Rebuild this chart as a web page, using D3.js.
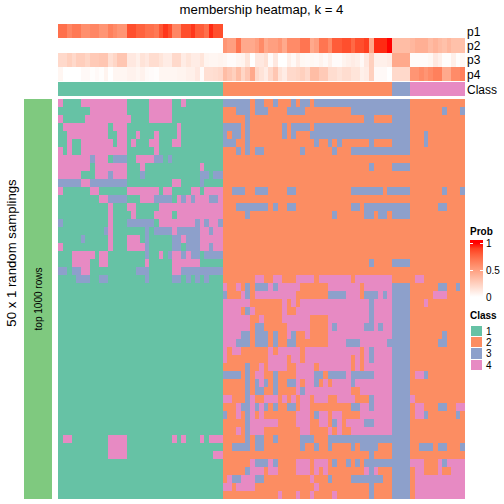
<!DOCTYPE html>
<html><head><meta charset="utf-8">
<style>html,body{margin:0;padding:0;background:#fff}svg{display:block}text{font-family:"Liberation Sans",Arial,sans-serif;fill:#000}</style>
<script src="https://cdn.jsdelivr.net/npm/d3@7"></script></head><body><div id="c"></div>
<script>
const title = "membership heatmap, k = 4";
const annNames = ["p1","p2","p3","p4"];
const classLabels = ["1","2","3","4"];
const classColors = ["#66C2A5","#FC8D62","#8DA0CB","#E78AC3"];
const classSizes = [36,37,4,12];
const probTicks = [0,0.5,1];

const p1 = [.72,.72,.62,.68,.68,.58,.58,.62,.62,.55,.55,.65,.6,.55,.55,.85,.85,.78,.78,.72,.72,.68,.82,.92,.85,.62,.62,.85,.85,.92,.8,.8,.72,.95,.85,.85,
 0,0,0,0,0,0,0,0,0,0,0,0,0,0,0,0,0,0,0,0,0,0,0,0,0,0,0,0,0,0,0,0,0,0,0,0,0,0,0,0,0,0,0,0,0,0,0,0,0,0,0,0,0];
const p2 = [0,0,0,0,0,0,0,0,0,0,0,0,0,0,0,0,0,0,0,0,0,0,0,0,0,0,0,0,0,0,0,0,0,0,0,0,
 .55,.5,.5,.7,.45,.45,.45,.5,.6,.45,.5,.5,.55,.45,.6,.6,.6,.7,.7,.45,.5,.7,.7,.6,.8,.8,.85,.85,.75,.85,.85,.9,.45,.95,.95,.95,1,
 .35,.35,.35,.35,.38,.42,.42,.42,.36,.4,.36,.33,.38,.33,.33,.33];
const p3 = [.2,.2,.25,.2,.26,.26,.22,.28,.28,.3,.3,.17,.22,.3,.3,.12,.12,.08,.15,.12,.18,.18,.14,.1,.1,.2,.2,.1,.14,.1,.1,.14,.06,.05,.05,.06,
 .05,.02,.02,.05,.06,.14,0,.12,.12,.16,.02,.12,0,0,.08,.03,.1,.04,.03,.04,.03,.06,.03,.08,.02,.02,.06,.08,.1,.08,.03,.12,.25,.08,.08,.08,.1,
 .45,.45,.45,.45,.02,.02,.02,.02,.04,.12,.08,.01,.01,.08,.01,.04];
const p4 = [.05,0,0,0,0,.03,.03,.01,.03,.01,.06,0,.05,.05,.05,.07,.07,.05,.07,.03,.02,.01,.05,.05,.05,.05,.06,.06,.08,.08,.12,.02,.17,.17,.18,.2,
 .35,.3,.25,.35,.22,.3,.45,.2,.15,.1,.2,.3,.15,.1,.2,.2,.22,.25,.2,.35,.35,.28,.28,.18,.18,.15,.18,.18,.14,.14,.08,.1,.25,.03,.03,.03,0,
 .2,.2,.2,.2,.55,.55,.6,.55,.6,.65,.65,.45,.45,.6,.6,.65];

// Each row: runs that differ from the column's base value (1 left of col 36, 2 from col 36 on). "value:from-to"
const rows = [
"4:0 4:5-14 4:20-24 4:27 3:36-41 3:43-44 3:47 3:51 3:53-54 3:56-76",
"4:7-14 4:20-24 3:39-41 3:43-45 3:50-53 3:64-76 3:84 3:88",
"4:0 4:6-15 4:20-24 3:41 3:67-68 3:73-76",
"4:1-10 4:12-14 4:26 3:36-39 3:41 3:49 3:51-54 3:56-76",
"4:2-10 4:13-14 4:17 4:21 4:26 3:36 3:38-39 3:41 3:49 3:51 3:55-76 3:80",
"4:2 4:5-11 4:13-14 4:16 4:20-21 4:25-26 3:36-38 3:41 3:56 3:59 3:61 3:68 3:73-76 3:80",
"4:0 4:2 4:5-14 4:21 3:39 3:41 3:43-44 3:53 3:60 3:64-76",
"4:0-6 3:7 4:8-10 3:12-14 4:17-20 3:21-22 3:24",
"4:0-6 4:8-14 4:18 4:31 3:68 3:73-76",
"4:0-4 4:8-10 3:11 4:12-14 3:18 3:31-32 3:34-35",
"3:0-4 4:5-6 3:7-14 4:25-26 3:31",
"4:0 4:7-8 4:15-21 4:23-24 4:29-30 4:32-35 3:38-40 3:43-45 3:50-51 3:64-70 3:72-76 3:84 3:88",
"4:9-10 3:11-14 4:18-20 3:21-24 4:26 3:27 4:28 3:29 4:30-32 3:33-34 4:35",
"4:11 4:15-16 4:22-35 3:39-45 3:47 3:50-51 3:64-65 3:67-76 3:83-84",
"4:11 4:16 4:21-24 4:26-35 3:41 3:60 3:67-68 3:70-71 3:73-76",
"3:0 4:11 3:15-20 4:22-29 3:30 4:31 3:32 4:33-34 3:35",
"3:10 4:11 3:19 3:21-24 4:25 3:26-30 4:31-32 3:33 4:34-35",
"3:5 4:11 4:15-17 3:19 3:25-26 4:27 3:28-30 4:31-35",
"4:0 4:11 4:15-18 3:19 3:25-26 3:28-30 4:31-32 3:33 4:34-35",
"4:3-7 4:9-10 3:19 4:22 3:24 4:25-26 3:27 4:28 3:29-30 3:32-35",
"4:3-6 4:9-10 4:19 4:25-30 3:68 3:73-76",
"3:0-1 3:3-4 4:5-6 3:17-19 4:25-26 3:27-35",
"3:4-6 3:9-10 3:19 3:25-26 3:28 3:30 3:32 4:43-44 4:47-48 4:52-55 4:57-63 4:65-72 4:78-79",
"4:36 4:39 3:41 3:43-45 4:46 3:47 4:48-52 4:59-65 4:67-72 3:73-76 3:83-84 3:87",
"3:36 4:40 3:41 4:43-51 3:59-62 4:63-65 3:67-69 4:70 3:71 4:72 3:73-76 4:82-84",
"4:36-41 4:49 4:51 4:53-67 3:68 4:69-72 3:73-76 4:80",
"4:36-39 3:41 4:42 4:49 4:52-67 3:68 4:69-72 3:73-76",
"4:36-41 4:44 4:49-54 4:59-67 3:68 4:69-72 3:73-76",
"4:36-41 3:43-44 4:50-54 4:59 3:60 4:61-66 3:67-68 4:69 3:70 4:71-72 3:73-76",
"4:36-39 3:40-41 3:43-45 3:47 4:50 3:51 4:54 4:59-72 3:73-76 3:84",
"4:36-38 3:39-41 3:43-45 3:47 3:50-51 4:59-62 3:63-65 4:66-71 3:72-76 3:83-84",
"4:36 4:38-39 4:46 4:48-52 4:54-65 4:67 3:68 4:69-72 3:73-76",
"4:36 4:46-49 4:51-52 4:54-63 4:65 4:67 3:68 4:69-72 3:73-76",
"3:41 4:44 4:46-49 4:52-55 4:57-63 4:65 4:67-72 3:73-76",
"3:36-39 3:41 4:43-44 3:47 4:52-55 3:56-57 3:59-62 4:63 3:64-68 4:69-72 3:73-76 4:78-79 3:80",
"3:41 3:43 4:44 3:45 3:47 3:50-51 4:52 4:54-55 3:56 4:58 4:60-63 3:64 4:65-72 3:73-76",
"3:41 3:43-44 3:47 4:52 3:53 4:54-63 4:66-72 3:73-76",
"4:36-37 3:41 4:42 4:45-47 4:49 4:51 4:53-54 4:56-58 4:61-64 3:68 4:69-72 3:73-76 4:77",
"4:39 3:40-41 4:42 3:43 4:44 3:45 3:47 3:50-51 4:53-54 3:64-65 4:66-67 3:68 4:69-72 3:73-76 4:78-79 3:83-84 4:87-88",
"3:36 4:39 3:41 4:42 4:44 4:52-54 3:56 4:57-58 4:60-61 4:66-72 3:73-76 4:78-79 3:80 3:87",
"3:41 4:42-47 4:52-54 4:57-58 3:60 4:61 4:63-66 3:67-68 4:69-72 3:73-76",
"4:39 3:41 4:42-44 4:53-54 4:59 4:61 4:64-72 3:73-76",
"4:1-2 4:11-14 4:25 4:27 4:31 4:33-35 3:41 3:43-44 3:47 3:53-55 3:59-76",
"4:11-14 3:38-41 3:43-44 3:53 3:56 3:59 3:64 3:66-69 3:73-76 3:79-81 3:83-84 3:88",
"4:11-14 4:34-35 3:68 3:73-76",
"4:42 3:43-45 4:46 3:47 4:52-54 4:56-58 3:60 3:63 3:65 3:67-76 4:77-79 4:83 3:84 4:85-88",
"3:41 4:42-44 4:46-47 4:52-54 4:56 4:58 4:67 3:68 4:69 3:73-76 4:78-79 4:83 4:86-88",
"4:37 3:38-39 4:40-42 3:43-44 4:55 3:59 3:64-70 3:73-76 4:78-88",
"4:36-37 4:39-42 4:56 3:68 3:73-76 4:78-88",
"4:48 4:52 4:55 4:60 3:68 3:73-76 4:78-88"
];

const nCols = d3.sum(classSizes), nRows = rows.length;
const colClass = classSizes.flatMap((n,i)=>d3.range(n).map(()=>i+1));
const grid = rows.map(r=>{
  const a = d3.range(nCols).map(c=>c<classSizes[0]?1:2);
  r.split(" ").forEach(t=>{
    const [v,span]=t.split(":"), [f,e]=span.split("-").map(Number);
    for(let c=f;c<=(e===undefined?f:e);c++) a[c]=+v;
  });
  return a;
});

const W=504,H=504;
const svg=d3.select("#c").append("svg").attr("width",W).attr("height",H);
const x=d3.scaleLinear().domain([0,nCols]).range([58,465]);
const y=d3.scaleLinear().domain([0,nRows]).range([99,499]);
const annY=d3.scaleBand().domain(annNames).range([24,81.3]);
const probColor=t=>d3.interpolateLab("#ffffff","#ff0000")(t);
const cls=d3.scaleOrdinal().domain([1,2,3,4]).range(classColors);
const rect=(g,X,Y,w,h,f)=>g.append("rect").attr("x",X).attr("y",Y).attr("width",w).attr("height",h).attr("fill",f).attr("shape-rendering","crispEdges");

svg.append("text").attr("x",261.5).attr("y",14).attr("text-anchor","middle").attr("font-size",13.2).text(title);

// annotation heat strips
[p1,p2,p3,p4].forEach((vals,i)=>{
  const g=svg.append("g");
  g.selectAll("rect").data(vals).join("rect")
   .attr("x",(d,c)=>x(c)).attr("width",(d,c)=>x(c+1)-x(c)+.3)
   .attr("y",annY(annNames[i])).attr("height",annY.bandwidth())
   .attr("fill",d=>probColor(d)).attr("shape-rendering","crispEdges");
  svg.append("text").attr("x",467).attr("y",annY(annNames[i])+annY.bandwidth()/2+4.5).attr("font-size",12).text(annNames[i]);
});
// class strip
svg.append("g").selectAll("rect").data(colClass).join("rect")
 .attr("x",(d,c)=>x(c)).attr("width",(d,c)=>x(c+1)-x(c)+.3).attr("y",82).attr("height",14)
 .attr("fill",d=>cls(d)).attr("shape-rendering","crispEdges");
svg.append("text").attr("x",467).attr("y",93.5).attr("font-size",12).text("Class");

// main matrix
const mg=svg.append("g");
grid.forEach((row,r)=>{
  mg.append("g").selectAll("rect").data(row).join("rect")
    .attr("x",(d,c)=>x(c)).attr("width",(d,c)=>x(c+1)-x(c)+.3)
    .attr("y",y(r)).attr("height",y(r+1)-y(r))
    .attr("fill",d=>cls(d)).attr("shape-rendering","crispEdges");
});

// left bar
rect(svg,24,99,28,400,"#7FC97F");
svg.append("text").attr("transform","translate(41.5,299) rotate(-90)").attr("text-anchor","middle").attr("font-size",10).text("top 1000 rows");
svg.append("text").attr("transform","translate(15.5,253) rotate(-90)").attr("text-anchor","middle").attr("font-size",13.2).text("50 x 1 random samplings");

// Prob legend
svg.append("text").attr("x",470).attr("y",235).attr("font-size",10).attr("font-weight","bold").text("Prob");
const ly=d3.scaleLinear().domain([0,1]).range([297,243]);
const lg=svg.append("defs").append("linearGradient").attr("id","pg").attr("gradientUnits","userSpaceOnUse")
  .attr("x1",0).attr("x2",0).attr("y1",ly(0)).attr("y2",ly(1));
d3.range(0,1.01,.1).forEach(t=>lg.append("stop").attr("offset",t).attr("stop-color",probColor(t)));
rect(svg,470,240,13,60,"url(#pg)");
probTicks.forEach(t=>{
  svg.append("text").attr("x",486).attr("y",ly(t)+3.5).attr("font-size",10).text(t);
  if(t>0){
    rect(svg,470,ly(t)-.5,3,1,"#fff"); rect(svg,480,ly(t)-.5,3,1,"#fff");
  }
});
// Class legend
svg.append("text").attr("x",470).attr("y",319).attr("font-size",10).attr("font-weight","bold").text("Class");
classLabels.forEach((l,i)=>{
  rect(svg,470.5,325.5+i*11.4,11,10.4,classColors[i]);
  svg.append("text").attr("x",486).attr("y",334.5+i*11.4).attr("font-size",10).text(l);
});
</script></body></html>
